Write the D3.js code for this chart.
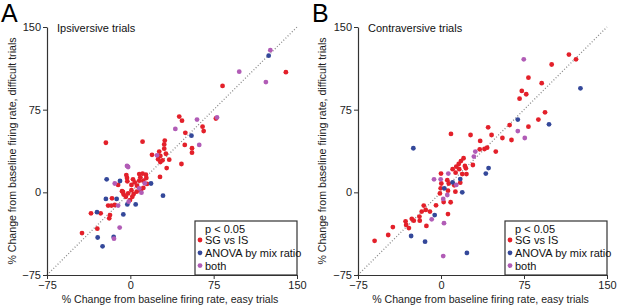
<!DOCTYPE html>
<html>
<head>
<meta charset="utf-8">
<script src="https://cdn.jsdelivr.net/npm/d3@7"></script>
<style>
  body { margin:0; background:#fff; }
  svg { font-family: "Liberation Sans", Arial, sans-serif; }
  .tick text { font-size:11px; fill:#222; }
  .axis-label { font-size:10.6px; fill:#222; }
  .panel-title { font-size:11px; fill:#111; }
  .panel-letter { font-size:25px; fill:#000; }
  .legend text { font-size:11px; fill:#111; }
</style>
</head>
<body>
<svg width="617" height="307"></svg>
<script>
// tick labels (both axes)
const ticks = [-75, 0, 75, 150];

// Panel A: ipsiversive trials, [easy, difficult]
const ipsiRed = [
  [140,109],[83,96.5],[44,68.7],[46.5,65],[77,67],[65,59.6],[66,55.6],[49.5,54],[49,43],[55.5,40],[55.5,36],
  [-22,45],[11,46],[31,47],[30.5,43.5],[30.5,39.6],[26,37],[19.5,34],[27,33],[32,35],[25,30],[29,29],[27,27.5],
  [35,29.6],[46,25.7],[32.7,22],[26.7,14],
  [-3.6,15.7],[-3,13],[-2.7,10],[8,16.6],[11,17],[14,16],[9,13.6],[14.4,13],[11.7,10.6],[8,10.6],[2.4,11.8],
  [1,6.7],[1,2],[3,-1.5],[5.7,0.6],[9.3,2],[11.7,4],[15,7.6],[6,6],[4,9],
  [-7.5,1],[-6,-2],[-2,-1],[-4,-4],[-0.3,-7],[1.8,-4],[-11,6.7],[-16.5,-5.4],[-20,-12],[-17,-12],[-14,-11.5],
  [-26.7,-19],[-35.4,-19],[-18.3,-20.6],[-19,-23.6],[-6.6,0.3],[-43.5,-37],[-29.7,-33]
];
const ipsiBlue = [
  [124.5,124],[55,51.4],[29.4,-3],[18.6,8],[-21.3,11.8],[-9.3,10.3],[-22,-6],[-12.3,-6],[-2.7,-11],[4.8,-11],
  [-6.3,-20],[-30,-18],[-29.4,-41],[-25,-49],[-15,-40.5]
];
const ipsiBoth = [
  [126,129],[98,109.5],[122,100],[60,66],[40.5,57.5],[78,68],[62,43],[24,33.6],[-3,24],[-2,23],[13,8.2],
  [8,3.6],[10,-0.3],[-14,8],[-11,-12],[-1.5,-8.5],[-9.6,-32],[-14.7,-42]
];

// Panel B: contraversive trials, [easy, difficult]
const contraRed = [
  [115.6,125],[122,120.7],[100,116],[79,104],[91,99],[73,92],[77,89],[71,85],[94,72.6],[88,66],[79,59.6],
  [62,61],[63.7,47.5],[55.5,49.3],[49.5,37],[45.7,52],[42.6,59],[35.4,46.6],[26.7,52],[9,53],[39.3,39.3],
  [35,39],[41.7,40.5],[28.8,24.8],[20.4,30.9],[18,28.4],[16,25.7],[13.8,23.3],[10.5,21],[13.2,17.8],[16.5,21],
  [22.5,21.8],[19.2,16.6],[23,16.6],[21.6,24],[0.3,8],[-0.3,3.6],[5.7,11],[7,8],[12,6.4],[17.4,8.8],[13,0.6],
  [6.3,1.5],[-1,-1],[2.4,-8.8],[8.7,-9],[6.3,-19.7],[-4.5,-11.8],[-10,-17.5],[-13.8,-16],[-17.4,-17.5],
  [-19.5,-22],[-26.4,-24],[-24.6,-25.7],[-32,-26.3],[-29,-32.4],[-31.5,-29.6],[-19.2,-25.7],[-13.2,-30.5],
  [-43.5,-31.5],[-47.7,-38.7],[-60,-44],[-15.6,-12],[0,17]
];
const contraBlue = [
  [126,94.4],[97.6,61.7],[69.4,66],[43,22],[40.5,17],[-25,40],[19.2,0],[17.4,12],[10.5,9],[3,3.6],
  [-5.7,-20.6],[-27,-39.6],[-14.4,-44.8],[23.4,-55]
];
const contraBoth = [
  [74.8,120.7],[69.4,55.6],[75.7,49.3],[31,37],[29.7,32.4],[6.6,17],[-6.3,11.8],[-0.3,11.8],[13.8,6.7],
  [5.7,-2.4],[2,-6],[-8.4,-24.5],[2.7,-28],[2,-57.8]
];

const legendItems = ['SG vs IS', 'ANOVA by mix ratio', 'both'];
const colors = ['#e3202a', '#34489a', '#b15cb6'];

const svg = d3.select('svg');

const yscale = d3.scaleLinear().domain([-75, 150]).range([275, 27]);

function panel(opts) {
  const xscale = d3.scaleLinear().domain([-75, 150]).range(opts.xRange);
  const g = svg.append('g');

  // identity line
  g.append('line')
    .attr('x1', xscale(-75)).attr('y1', yscale(-75))
    .attr('x2', xscale(150)).attr('y2', yscale(150))
    .attr('stroke', '#8a8a8a').attr('stroke-width', 1.3)
    .attr('stroke-dasharray', '1,2');

  const series = [opts.red, opts.blue, opts.both];
  series.forEach((pts, i) => {
    g.append('g').selectAll('circle').data(pts)
      .enter().append('circle')
        .attr('cx', d => xscale(d[0]))
        .attr('cy', d => yscale(d[1]))
        .attr('r', 2.4)
        .attr('fill', colors[i]);
  });

  const xAxisG = g.append('g')
    .attr('transform', `translate(0,${yscale(-75)})`)
    .call(d3.axisBottom(xscale).tickValues(ticks).tickSize(4).tickPadding(2).tickSizeOuter(0));
  const yAxisG = g.append('g')
    .attr('transform', `translate(${xscale(-75)},0)`)
    .call(d3.axisLeft(yscale).tickValues(ticks).tickSize(4).tickPadding(2).tickSizeOuter(0));
  [xAxisG, yAxisG].forEach(a => {
    a.select('.domain').attr('stroke', '#333').attr('stroke-width', 1.2);
    a.selectAll('.tick line').attr('stroke', '#333');
  });

  g.append('text').attr('class', 'axis-label')
    .attr('x', (opts.xRange[0] + opts.xRange[1]) / 2 - 2).attr('y', 303)
    .attr('text-anchor', 'middle')
    .text('% Change from baseline firing rate, easy trials');
  g.append('text').attr('class', 'axis-label')
    .attr('transform', `translate(${opts.yLabelX},151) rotate(-90)`)
    .attr('text-anchor', 'middle')
    .text('% Change from baseline firing rate, difficult trials');

  g.append('text').attr('class', 'panel-title')
    .attr('x', xscale(-75) + 10).attr('y', 32)
    .text(opts.title);
  g.append('text').attr('class', 'panel-letter')
    .attr('x', opts.letterX).attr('y', 22)
    .text(opts.letter);

  // legend
  const lx = opts.xRange[1] - 102;
  const lg = g.append('g').attr('class', 'legend');
  lg.append('rect')
    .attr('x', lx).attr('y', 221).attr('width', 102).attr('height', 54)
    .attr('fill', '#fff').attr('stroke', '#333').attr('stroke-width', 1.2);
  lg.append('text').attr('x', lx + 10).attr('y', 232.5).text('p < 0.05');
  legendItems.forEach((name, i) => {
    const cy = 240 + i * 12.8;
    lg.append('circle').attr('cx', lx + 5).attr('cy', cy).attr('r', 2.4).attr('fill', colors[i]);
    lg.append('text').attr('x', lx + 10).attr('y', cy + 4).text(name);
  });
}

panel({ xRange: [47, 297], red: ipsiRed, blue: ipsiBlue, both: ipsiBoth,
        title: 'Ipsiversive trials', letter: 'A', letterX: 1, yLabelX: 16 });
panel({ xRange: [358, 607], red: contraRed, blue: contraBlue, both: contraBoth,
        title: 'Contraversive trials', letter: 'B', letterX: 312, yLabelX: 326 });
</script>
</body>
</html>
